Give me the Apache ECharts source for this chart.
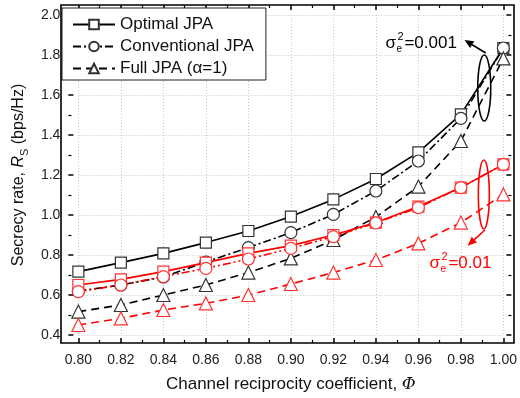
<!DOCTYPE html>
<html>
<head>
<meta charset="utf-8">
<script src="https://cdn.jsdelivr.net/npm/echarts@6/dist/echarts.min.js"></script>
<style>
  html, body { margin: 0; padding: 0; background: #fff; }
  #chart { width: 520px; height: 398px; }
</style>
</head>
<body>
<div id="chart"></div>
<script>
// channel reciprocity coefficient
const phi = [0.80, 0.82, 0.84, 0.86, 0.88, 0.90, 0.92, 0.94, 0.96, 0.98, 1.00];

// sigma_e^2 = 0.001 (black)
const optimalLow = [0.717, 0.762, 0.808, 0.862, 0.920, 0.992, 1.078, 1.180, 1.313, 1.503, 1.835];
const conventionalLow = [0.620, 0.650, 0.690, 0.765, 0.837, 0.912, 1.003, 1.120, 1.270, 1.483, 1.835];
const fullLow = [0.517, 0.550, 0.600, 0.650, 0.712, 0.783, 0.875, 0.990, 1.142, 1.370, 1.783];

// sigma_e^2 = 0.01 (red)
const optimalHigh = [0.650, 0.678, 0.717, 0.762, 0.808, 0.847, 0.900, 0.962, 1.042, 1.137, 1.253];
const conventionalHigh = [0.617, 0.650, 0.692, 0.733, 0.780, 0.833, 0.892, 0.960, 1.037, 1.137, 1.253];
const fullHigh = [0.450, 0.483, 0.525, 0.558, 0.600, 0.655, 0.712, 0.775, 0.858, 0.962, 1.103];

const FONT = 'Liberation Sans, Arial, sans-serif';
const BLACK = '#000';
const RED = '#ff0000';

const pairs = (ys) => phi.map((x, i) => [x, ys[i]]);

function makeSeries(name, ys, color, symbol, size, dash, z) {
    return {
        name: name,
        type: 'line',
        data: pairs(ys),
        symbol: symbol,
        symbolSize: size,
        showAllSymbol: true,
        z: z,
        lineStyle: { color: color, width: 1.6, type: dash },
        itemStyle: {
            color: '#fff',
            borderColor: color === BLACK ? '#333' : '#ff3333',
            borderWidth: 1.2
        },
        emphasis: { disabled: true }
    };
}

const chart = echarts.init(document.getElementById('chart'), null, { renderer: 'canvas' });

const tickCommon = { inside: true, length: 5, lineStyle: { color: BLACK, width: 1.5 } };
const minorCommon = { show: true, splitNumber: 2, length: 3, lineStyle: { color: BLACK, width: 1.2 } };
const splitCommon = { show: true, lineStyle: { color: '#c8c8c8', type: [1, 2], width: 1 } };

chart.setOption({
    animation: false,
    backgroundColor: '#fff',
    textStyle: { fontFamily: FONT },
    grid: { left: 71, right: 14, top: 15, bottom: 63, containLabel: false },
    legend: {
        data: ['Optimal JPA', 'Conventional JPA', 'Full JPA (α=1)'],
        orient: 'vertical',
        left: 62,
        top: 8,
        itemWidth: 42,
        itemHeight: 12,
        itemGap: 5,
        padding: [8, 12, 3, 10],
        backgroundColor: '#fff',
        borderColor: '#222',
        borderWidth: 1,
        textStyle: { fontFamily: FONT, fontSize: 17, color: '#111' },
        selectedMode: false
    },
    xAxis: [
        {
            type: 'value', min: 0.80, max: 1.00, interval: 0.02, offset: 8,
            axisLine: { show: false },
            axisTick: tickCommon, minorTick: minorCommon,
            splitLine: splitCommon,
            axisLabel: { fontSize: 14, color: '#222', margin: 10, formatter: v => v.toFixed(2) },
            name: 'Channel reciprocity coefficient, {i|Φ}',
            nameLocation: 'middle', nameGap: 33,
            nameTextStyle: {
                fontSize: 17, color: '#111', fontFamily: FONT,
                rich: { i: { fontSize: 17, fontStyle: 'italic', fontFamily: 'DejaVu Serif, serif', color: '#111' } }
            }
        },
        {
            type: 'value', position: 'top', min: 0.80, max: 1.00, interval: 0.02, offset: 10,
            axisLine: { show: false },
            axisTick: tickCommon, minorTick: minorCommon,
            splitLine: { show: false }, axisLabel: { show: false }
        }
    ],
    yAxis: [
        {
            type: 'value', min: 0.4, max: 2.0, interval: 0.2, offset: 10,
            axisLine: { show: false },
            axisTick: tickCommon, minorTick: minorCommon,
            splitLine: splitCommon,
            axisLabel: { fontSize: 14, color: '#222', margin: 8, formatter: v => v.toFixed(1) },
            name: 'Secrecy rate, {i|R}{sub|S} (bps/Hz)',
            nameLocation: 'middle', nameGap: 30,
            nameTextStyle: {
                fontSize: 16, color: '#111', fontFamily: FONT, lineHeight: 22,
                rich: {
                    i: { fontSize: 16, fontStyle: 'italic', color: '#111', lineHeight: 22 },
                    sub: { fontSize: 11, color: '#111', verticalAlign: 'bottom', lineHeight: 22 }
                }
            }
        },
        {
            type: 'value', position: 'right', min: 0.4, max: 2.0, interval: 0.2, offset: 8,
            axisLine: { show: false },
            axisTick: tickCommon, minorTick: minorCommon,
            splitLine: { show: false }, axisLabel: { show: false }
        }
    ],
    series: [
        makeSeries('Optimal JPA', optimalLow, BLACK, 'rect', 11, 'solid', 3),
        makeSeries('Conventional JPA', conventionalLow, BLACK, 'circle', 12, [8, 3, 2, 3], 3),
        makeSeries('Full JPA (α=1)', fullLow, BLACK, 'triangle', 13, [8, 5], 3),
        makeSeries('Optimal JPA, σe²=0.01', optimalHigh, RED, 'rect', 11, 'solid', 4),
        makeSeries('Conventional JPA, σe²=0.01', conventionalHigh, RED, 'circle', 12, [8, 3, 2, 3, 2, 3], 4),
        makeSeries('Full JPA, σe²=0.01', fullHigh, RED, 'triangle', 13, [8, 5], 4)
    ]
});

// annotations placed in data coordinates
const px = (x, y) => chart.convertToPixel({ xAxisIndex: 0, yAxisIndex: 0 }, [x, y]);

function ellipse(xc, yTop, yBottom, rx, color) {
    const top = px(xc, yTop), bot = px(xc, yBottom);
    return {
        type: 'ellipse', z: 10,
        shape: { cx: top[0], cy: (top[1] + bot[1]) / 2, rx: rx, ry: (bot[1] - top[1]) / 2 },
        style: { fill: null, stroke: color, lineWidth: 1.6 }
    };
}

function arrow(from, to, color) {
    const a = px(from[0], from[1]), b = px(to[0], to[1]);
    const ang = Math.atan2(b[1] - a[1], b[0] - a[0]);
    const L = 9, W = 4;
    const bx = b[0] - L * Math.cos(ang), by = b[1] - L * Math.sin(ang);
    return [
        { type: 'line', z: 10, shape: { x1: a[0], y1: a[1], x2: bx, y2: by }, style: { stroke: color, lineWidth: 1.6 } },
        {
            type: 'polygon', z: 10,
            shape: { points: [b, [bx + W * Math.sin(ang), by - W * Math.cos(ang)], [bx - W * Math.sin(ang), by + W * Math.cos(ang)]] },
            style: { fill: color }
        }
    ];
}

function sigmaLabel(x, y, value, color) {
    const p = px(x, y);
    const t = (dx, dy, text, size) => ({
        type: 'text', z: 10, x: p[0] + dx, y: p[1] + dy,
        style: { text: text, fill: color, font: size + 'px ' + FONT, textVerticalAlign: 'middle' }
    });
    return [
        t(0, 0, 'σ', 17),
        t(11, 6, 'e', 10),
        t(12, -6, '2', 11),
        t(19, 0, '=' + value, 17)
    ];
}

chart.setOption({
    graphic: [
        { type: 'rect', z: 5, silent: true, shape: { x: 61, y: 5, width: 453, height: 338 }, style: { fill: null, stroke: BLACK, lineWidth: 1.6 } },
        ellipse(0.991, 1.80, 1.47, 6.5, BLACK),
        ...arrow([0.9917, 1.81], [0.9817, 1.875], BLACK),
        ...sigmaLabel(0.9445, 1.86, '0.001', BLACK),
        ellipse(0.9908, 1.275, 0.93, 5.5, RED),
        ...arrow([0.9913, 0.925], [0.9832, 0.8465], RED),
        ...sigmaLabel(0.9652, 0.76, '0.01', RED)
    ]
});
</script>
</body>
</html>
